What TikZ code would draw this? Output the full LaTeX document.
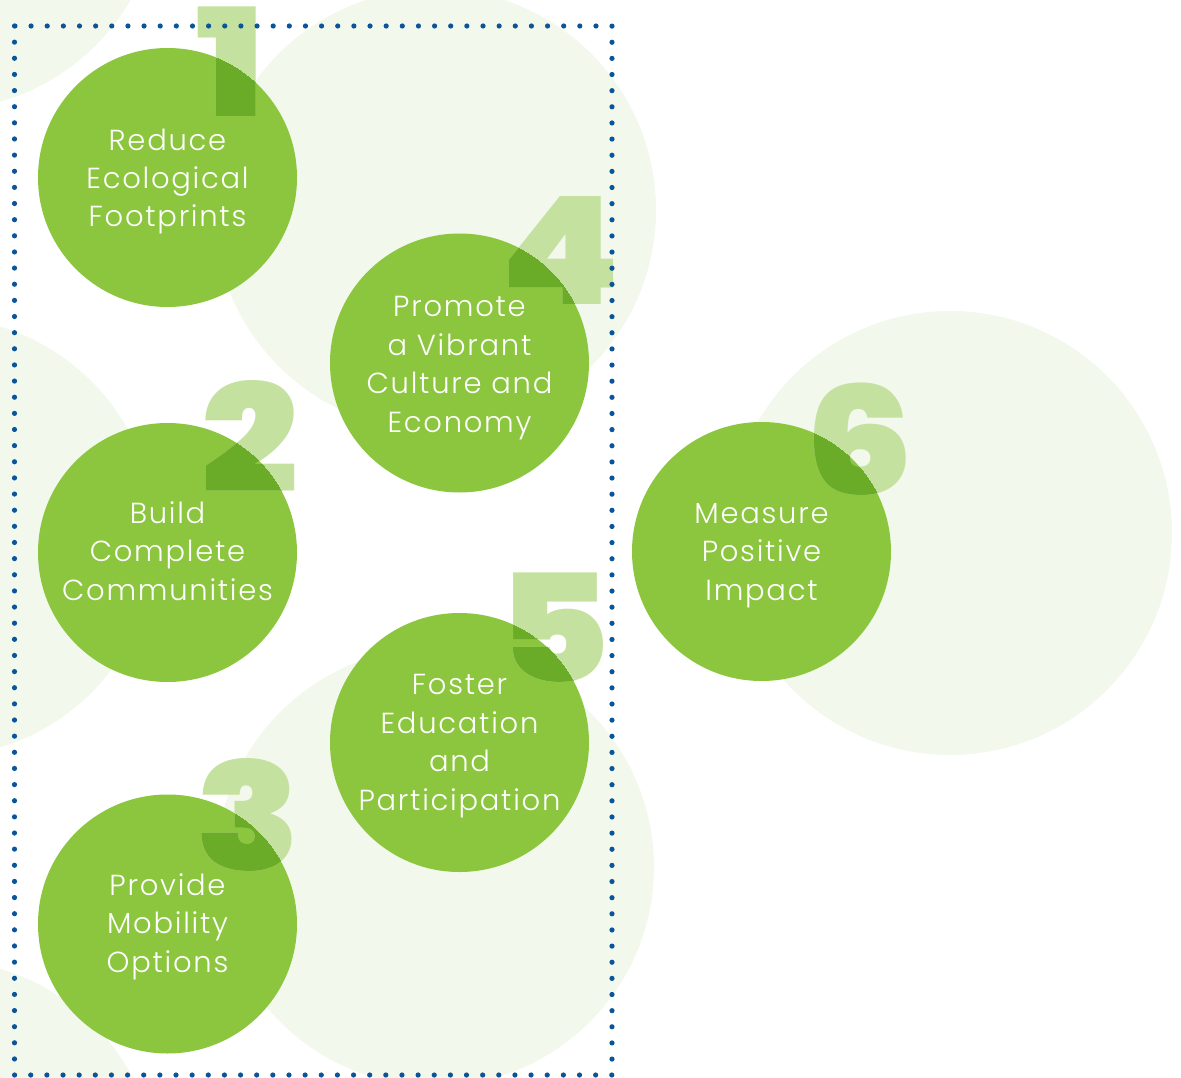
\documentclass[tikz,border=0pt]{standalone}
\usepackage{fontspec}
\setmainfont{Poppins}[UprightFont=* Light, LetterSpace=6]
\newfontfamily\numfont{Poppins}[UprightFont=* Black, FakeStretch=1.14]
\definecolor{leaf}{RGB}{140,198,63}
\definecolor{pale}{RGB}{242,248,236}
\definecolor{numlight}{RGB}{197,225,160}
\definecolor{numdark}{RGB}{106,172,40}
\definecolor{navy}{RGB}{10,84,154}
\begin{document}
\begin{tikzpicture}[x=1pt,y=-1pt,
  bgdisc/.style={fill=pale},
  goal/.style={circle,fill=leaf,minimum size=259pt,inner sep=0pt},
  lbl/.style={text=white,font=\fontsize{29}{38.5}\selectfont,align=center,inner sep=0pt,anchor=base},
  numl/.style={text=numlight,font=\numfont\fontsize{150}{150}\selectfont,inner sep=0pt,anchor=base},
  numd/.style={numl,text=numdark},
  dotframe/.style={draw=navy,line width=5.2pt,line cap=round,dash pattern=on 0pt off 16.14pt}]
\useasboundingbox (0,0) rectangle (1181,1078);
\clip (0,0) rectangle (1181,1078);
% pale background discs
\fill[bgdisc] (-60,-110) circle [radius=220pt];
\fill[bgdisc] (435,210) circle [radius=221pt];
\fill[bgdisc] (-64,537) circle [radius=220pt];
\fill[bgdisc] (435,867) circle [radius=219pt];
\fill[bgdisc] (-62,1180) circle [radius=220pt];
\fill[bgdisc] (950,533) circle [radius=222pt];
% goal circles
\node[goal] (c1) at (167.5,177.5) {};
\node[goal] (c4) at (459.5,363) {};
\node[goal] (c2) at (167.5,552.5) {};
\node[goal] (c5) at (459.5,742.5) {};
\node[goal] (c3) at (167.5,924) {};
\node[goal] (c6) at (761.5,551.5) {};
% big numbers
\node[numl] (n1) at (231,117) {1};
\node[numl] (n4) at (560.5,305) {4};
\node[numl] (n2) at (249.5,492) {2};
\node[numl] (n3) at (248.5,870) {3};
\node[numl] (n5) at (553.5,682) {5};
\node[numl] (n6) at (860,494) {6};
\begin{scope}\clip (c1.center) circle [radius=129.5pt];
\node[numd] (n1d) at (231,117) {1};\end{scope}
\begin{scope}\clip (c4.center) circle [radius=129.5pt];
\node[numd] (n4d) at (560.5,305) {4};\end{scope}
\begin{scope}\clip (c2.center) circle [radius=129.5pt];
\node[numd] (n2d) at (249.5,492) {2};\end{scope}
\begin{scope}\clip (c3.center) circle [radius=129.5pt];
\node[numd] (n3d) at (248.5,870) {3};\end{scope}
\begin{scope}\clip (c5.center) circle [radius=129.5pt];
\node[numd] (n5d) at (553.5,682) {5};\end{scope}
\begin{scope}\clip (c6.center) circle [radius=129.5pt];
\node[numd] (n6d) at (860,494) {6};\end{scope}
% dotted frame
\coordinate (fa) at (14.5,26);
\coordinate (fb) at (612,1075);
\draw[dotframe] (fa) rectangle (fb);
% labels (base = last line's baseline)
\node[lbl] (t1) at (167.5,227) {Reduce\\Ecological\\Footprints};
\node[lbl] (t4) at (459.5,432) {Promote\\a Vibrant\\Culture and\\Economy};
\node[lbl] (t2) at (167.5,600) {Build\\Complete\\Communities};
\node[lbl] (t5) at (459.5,810) {Foster\\Education\\and\\Participation};
\node[lbl] (t3) at (167.5,972) {Provide\\Mobility\\Options};
\node[lbl] (t6) at (761.5,600) {Measure\\Positive\\Impact};
\end{tikzpicture}
\end{document}
